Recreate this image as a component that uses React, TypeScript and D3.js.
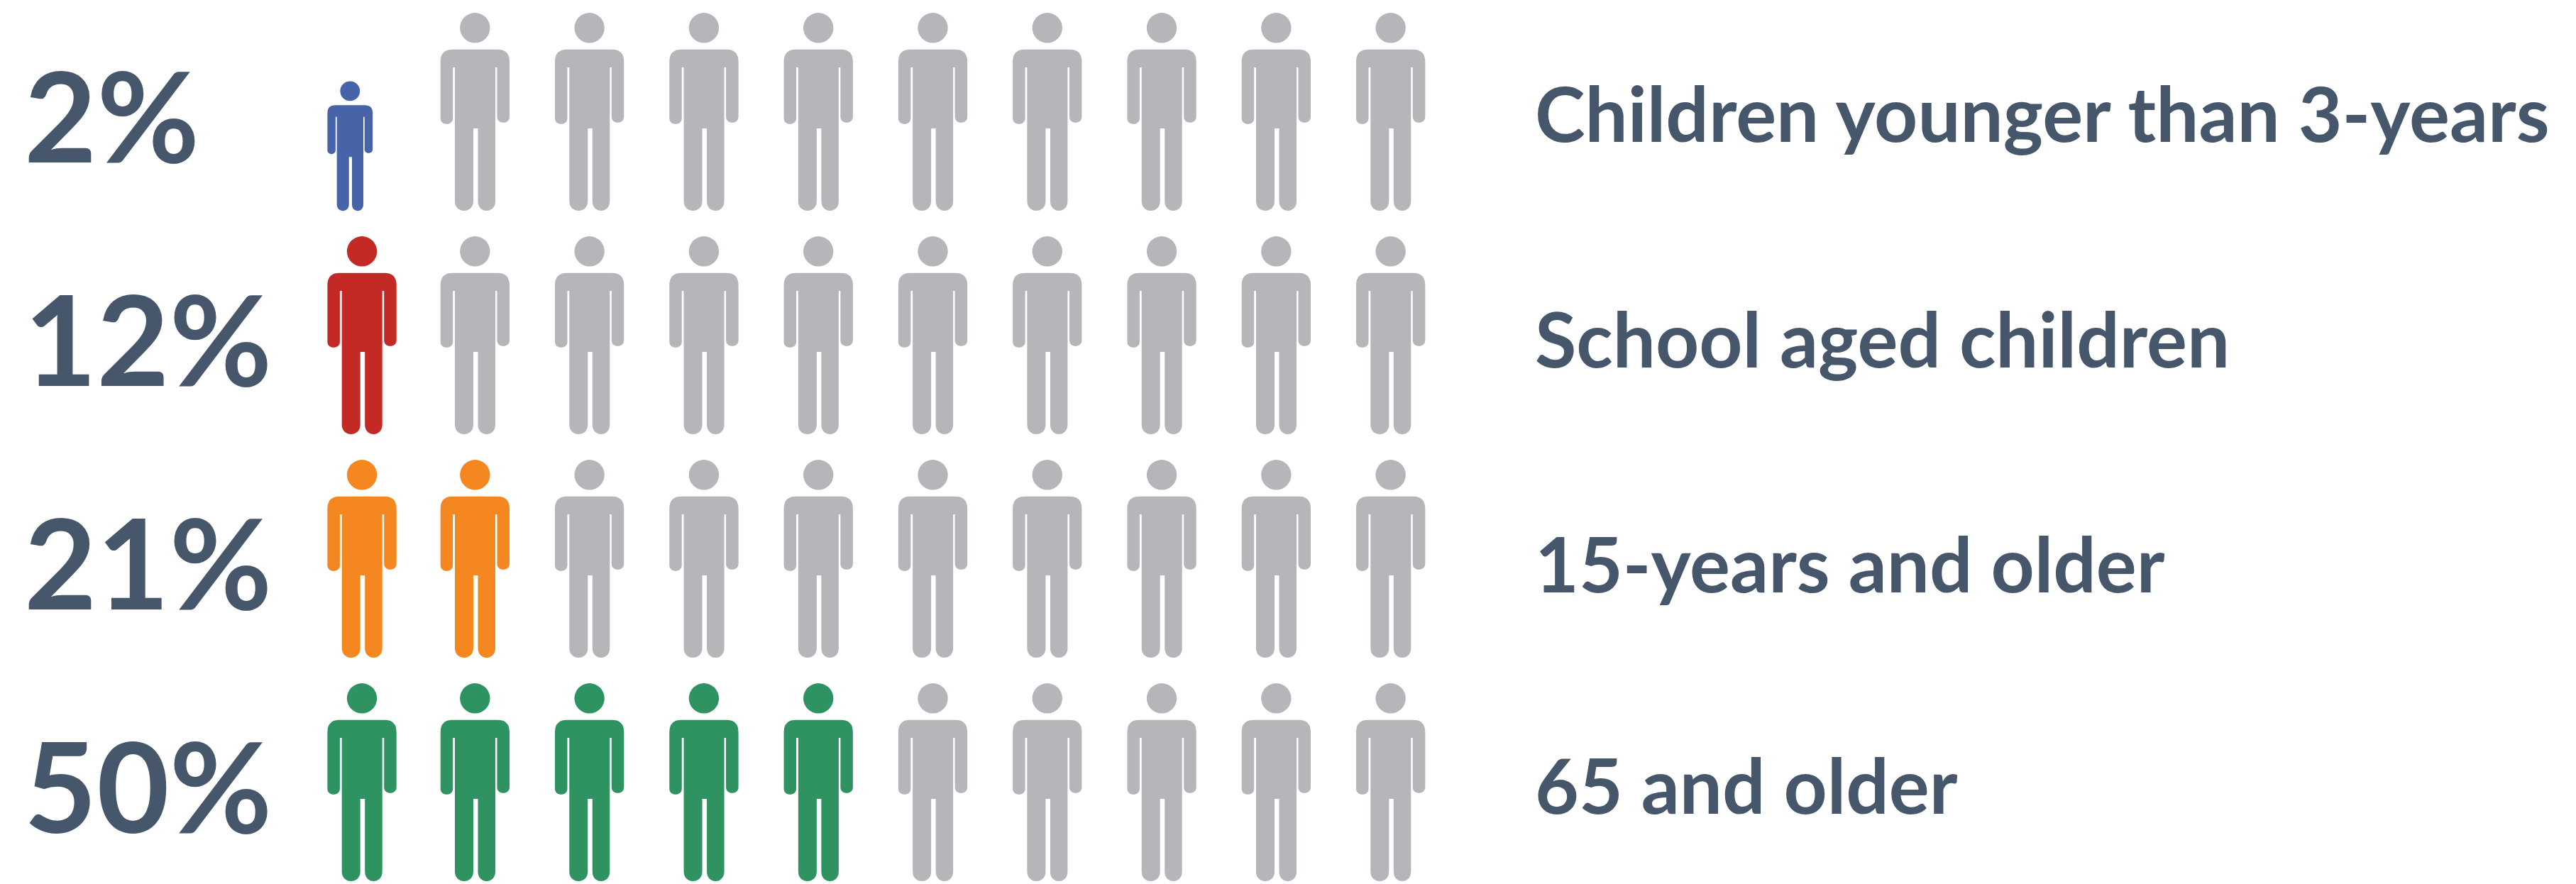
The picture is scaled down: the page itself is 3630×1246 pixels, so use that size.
import React from "react";
import * as d3 from "d3";

// Share of each age group, one row of ten figures per group
const groups = ["Children younger than 3-years", "School aged children", "15-years and older", "65 and older"];
const percents = [2, 12, 21, 50];
const filledFigures = [1, 1, 2, 5];
const firstFigureScale = [0.655, 1, 1, 1];
const colours = ["#4764a8", "#c32a26", "#f58720", "#2e9360"];
const columns = d3.range(10);

const INK = "#46566b";
const EMPTY = "#b5b6b9";
const FONT = "Lato, 'Open Sans', sans-serif";

const W = 3630;
const H = 1246;

const FIG_W = 97.3;
const FIG_H = 279.5;
const FIRST_COLUMN_SHIFT = 2;
// Group labels do not sit at a constant distance from their row
const LABEL_DROP = [181.7, 184.7, 186.7, 183.7];

// Each step is one figure plus its gutter
const rowY = d3.scalePoint<number>().domain([0, 1, 2, 3]).range([18, 963]);
const colX = d3.scalePoint<number>().domain(columns).range([459.4, 1911]);

// Body outline in figure units; the head is a separate circle
function bodyPath(): string {
  const p = d3.path();
  const top = 51.7;
  const r = 17;
  const armW = 17.5;
  const bodyL = 20.3;
  const bodyR = 77.3;
  const rightArmL = 79.8;
  const leftArmBottom = 157.5;
  const rightArmBottom = 155.5;
  const armR = armW / 2;
  const pitY = 77;
  const legGapL = 46.3;
  const legGapR = 52.8;
  const crotchY = 163;
  const ankle = FIG_H - 14;

  p.moveTo(r, top);
  p.lineTo(FIG_W - r, top);
  p.quadraticCurveTo(FIG_W, top, FIG_W, top + r);
  p.lineTo(FIG_W, rightArmBottom - armR);
  p.bezierCurveTo(FIG_W, rightArmBottom + 2, rightArmL, rightArmBottom + 2, rightArmL, rightArmBottom - armR);
  p.lineTo(rightArmL, pitY);
  p.lineTo(bodyR, pitY);
  p.lineTo(bodyR, ankle);
  p.bezierCurveTo(bodyR, FIG_H + 4, legGapR, FIG_H + 4, legGapR, ankle);
  p.lineTo(legGapR, crotchY);
  p.lineTo(legGapL, crotchY);
  p.lineTo(legGapL, ankle);
  p.bezierCurveTo(legGapL, FIG_H + 4, bodyL, FIG_H + 4, bodyL, ankle);
  p.lineTo(bodyL, pitY);
  p.lineTo(armW, pitY);
  p.lineTo(armW, leftArmBottom - armR);
  p.bezierCurveTo(armW, leftArmBottom + 2, 0, leftArmBottom + 2, 0, leftArmBottom - armR);
  p.lineTo(0, top + r);
  p.quadraticCurveTo(0, top, r, top);
  p.closePath();
  return p.toString();
}

const BODY = bodyPath();

function Figure({ x, y, scale, fill }: { x: number; y: number; scale: number; fill: string }) {
  // Smaller figures stand on the same baseline as full-size ones
  const dy = FIG_H * (1 - scale);
  return (
    <g transform={`translate(${x},${y + dy}) scale(${scale})`} fill={fill}>
      <circle cx={FIG_W / 2} cy={21.3} r={21.2} />
      <path d={BODY} />
    </g>
  );
}

export default function App() {
  return (
    <svg
      width={W}
      height={H}
      viewBox={`0 0 ${W} ${H}`}
      style={{ position: "absolute", left: 0, top: 0, display: "block", background: "#fff" }}
    >
      {groups.map((group, i) => {
        const y = rowY(i) as number;
        const baseline = y + 211;
        return (
          <g key={group}>
            <text x={34} y={baseline} fontFamily={FONT} fontWeight={700} fontSize={176.5} fill={INK}>
              {percents[i]}%
            </text>
            {columns.map((c) => (
              <Figure
                key={c}
                x={(colX(c) as number) + (c === 0 ? FIRST_COLUMN_SHIFT : 0)}
                y={y}
                scale={c === 0 ? firstFigureScale[i] : 1}
                fill={c < filledFigures[i] ? colours[i] : EMPTY}
              />
            ))}
            <text x={2163} y={y + LABEL_DROP[i]} fontFamily={FONT} fontWeight={700} fontSize={106.7} fill={INK}>
              {group}
            </text>
          </g>
        );
      })}
    </svg>
  );
}
